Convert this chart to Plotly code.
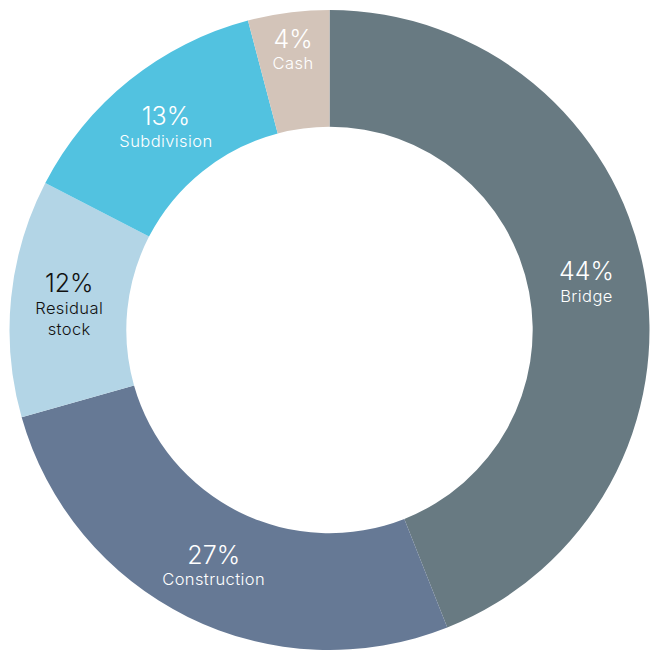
import plotly.graph_objects as go

labels = ["Bridge", "Construction", "Residual stock", "Subdivision", "Cash"]
display_labels = ["Bridge", "Construction", "Residual<br>stock", "Subdivision", "Cash"]
values = [44.0, 26.6, 12.0, 13.3, 4.1]
pct_labels = ["44%", "27%", "12%", "13%", "4%"]
colors = ["#687a82", "#667995", "#b3d5e6", "#52c2e0", "#d3c4b9"]
text_colors = ["#ffffff", "#ffffff", "#111111", "#ffffff", "#ffffff"]

def fmt(p, l):
    parts = [f"<span style='letter-spacing:0.4px'>{s}</span>" for s in l.split("<br>")]
    return f"<span style='font-size:25px'>{p}</span><br>" + "<br>".join(parts)

texts = [fmt(p, l) for p, l in zip(pct_labels, display_labels)]

fig = go.Figure(go.Pie(
    labels=labels,
    values=values,
    text=texts,
    textinfo="text",
    hole=0.635,
    sort=False,
    direction="clockwise",
    rotation=0,
    marker=dict(colors=colors, line=dict(width=0)),
    textposition="inside",
    insidetextorientation="horizontal",
    textfont=dict(family="Inter", size=16.5, weight=300, color=text_colors),
    domain=dict(x=[9/650, 1], y=[0, 1 - 10/650]),
    showlegend=False,
))

fig.update_layout(
    width=650, height=650,
    margin=dict(l=0, r=0, t=0, b=0),
    paper_bgcolor="white",
    plot_bgcolor="white",
)

fig.write_html("out.html")
